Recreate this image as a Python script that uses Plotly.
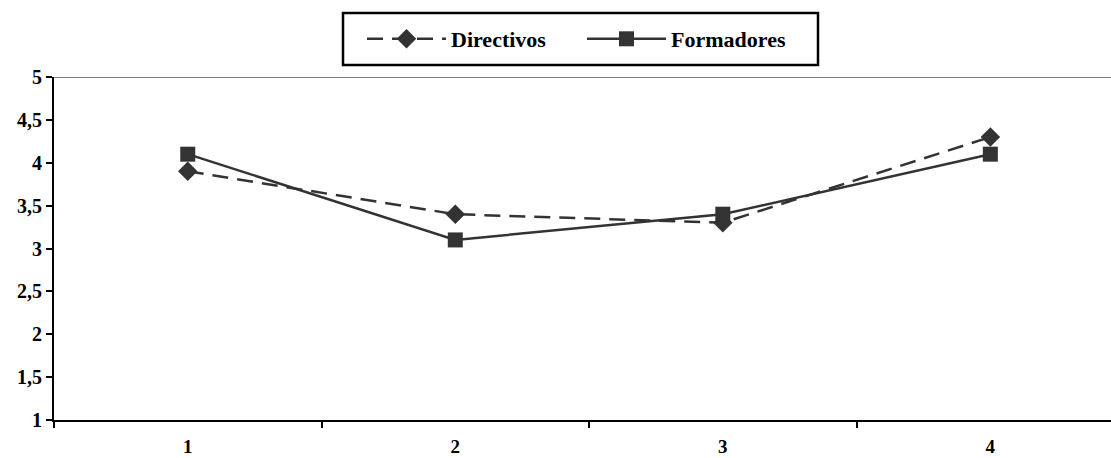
import plotly.graph_objects as go

categories = [1, 2, 3, 4]
category_labels = ["1", "2", "3", "4"]
directivos = [3.9, 3.4, 3.3, 4.3]
formadores = [4.1, 3.1, 3.4, 4.1]
y_ticks = [1, 1.5, 2, 2.5, 3, 3.5, 4, 4.5, 5]
y_tick_labels = ["1", "1,5", "2", "2,5", "3", "3,5", "4", "4,5", "5"]
x_boundaries = [0.5, 1.5, 2.5, 3.5, 4.5]

W, H = 1111, 458
L, R, T, B = 54, 0, 77, 38
pw, ph = W - L - R, H - T - B

def px_x(p):
    return (p - L) / pw

def px_y(p):
    return 1 + (T - p) / ph

col = "#333333"
font = "Liberation Serif"

fig = go.Figure()
fig.add_trace(go.Scatter(
    x=categories, y=directivos, name="Directivos", mode="lines+markers",
    line=dict(color=col, width=2.5, dash="16px,9px"),
    marker=dict(symbol="diamond", size=15, color=col),
))
fig.add_trace(go.Scatter(
    x=categories, y=formadores, name="Formadores", mode="lines+markers",
    line=dict(color=col, width=2.5),
    marker=dict(symbol="square", size=15, color=col),
))

fig.add_shape(type="line", xref="paper", yref="y", x0=0, x1=1, y0=5, y1=5,
              line=dict(color="#808080", width=2))
fig.add_shape(type="rect", xref="paper", yref="paper",
              x0=px_x(343), x1=px_x(818), y0=px_y(65), y1=px_y(13),
              line=dict(color="black", width=2.5), fillcolor="rgba(0,0,0,0)")

fig.update_layout(
    width=W, height=H,
    margin=dict(l=L, r=R, t=T, b=B),
    plot_bgcolor="white", paper_bgcolor="white",
    font=dict(family=font, size=16, color="black"),
    showlegend=True,
    legend=dict(orientation="h", x=px_x(362), xanchor="left",
                y=px_y(39), yanchor="middle",
                font=dict(family=font, size=22, color="black", weight="bold"),
                itemwidth=79, entrywidth=126, bgcolor="rgba(0,0,0,0)"),
    xaxis=dict(range=[0.5, 4.451], tickvals=categories, ticktext=category_labels,
               showline=True, linecolor="black", linewidth=2, automargin=False,
               ticks="outside", ticklen=8, tickwidth=2, tickcolor="rgba(0,0,0,0)",
               minor=dict(tickvals=x_boundaries, ticks="outside", ticklen=6,
                          tickwidth=2, tickcolor="black", showgrid=False),
               showgrid=False, zeroline=False,
               tickfont=dict(family=font, size=19, color="black", weight="bold")),
    yaxis=dict(range=[1, 5], tickvals=y_ticks, ticktext=y_tick_labels,
               showline=True, linecolor="black", linewidth=2, automargin=False,
               ticks="outside", ticklen=6, tickwidth=2, tickcolor="black",
               showgrid=False, zeroline=False,
               tickfont=dict(family=font, size=20, color="black", weight="bold")),
)

fig.write_html("out.html")
